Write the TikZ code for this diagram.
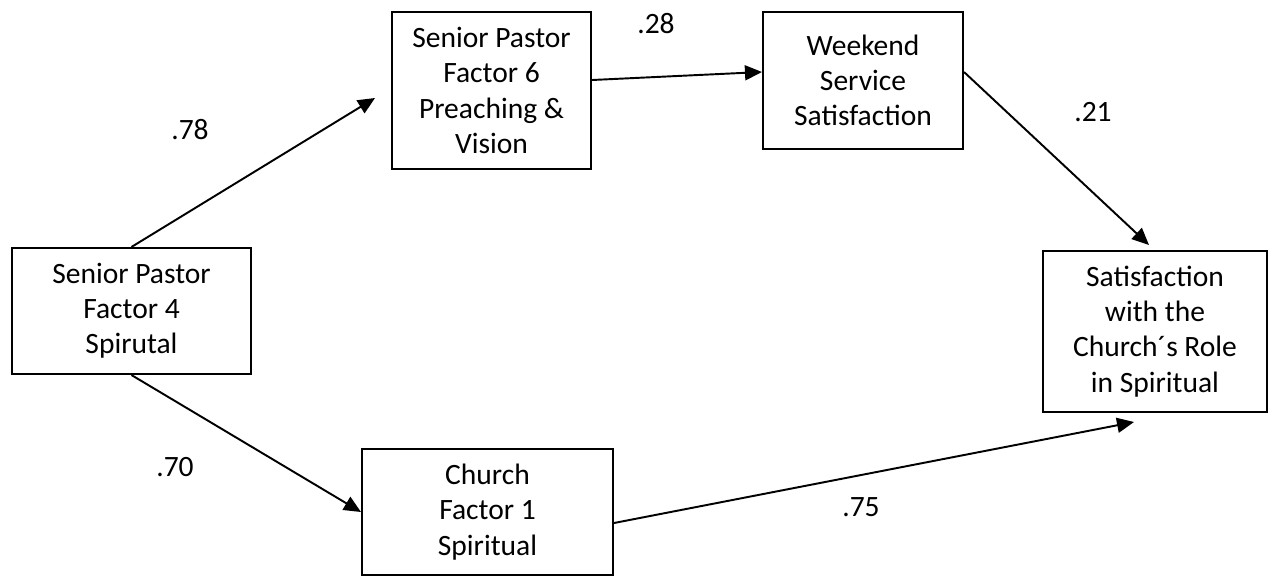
\documentclass[tikz,border=0pt]{standalone}
\usepackage{fontspec}
\setmainfont{Carlito}
\usepackage{tikz}
\usetikzlibrary{arrows.meta,positioning}
\tikzset{
  pathbox/.style={draw=black,line width=1.2pt,align=center,inner sep=0pt,fill=white,text=black},
  arrow/.style={-{Triangle[length=0.34cm,width=0.3cm]},line width=1.1pt,draw=black},
  coef/.style={inner sep=0pt,text=black}
}

\begin{document}
\begin{tikzpicture}[x=0.02cm,y=-0.02cm,font=\fontsize{16.8}{20}\selectfont]
  \useasboundingbox (0,0) rectangle (1272,576);
  \node[pathbox,minimum width=4.78cm,minimum height=2.52cm] (sp4) at (131.5,311) {Senior Pastor\\Factor 4\\Spirutal};
  \node[pathbox,minimum width=3.98cm,minimum height=3.14cm] (sp6) at (491.5,90.5) {Senior Pastor\\Factor 6\\Preaching \&\\Vision};
  \node[pathbox,minimum width=4.0cm,minimum height=2.74cm] (wknd) at (863,80.5) {Weekend\\Service\\Satisfaction};
  \node[pathbox,minimum width=4.48cm,minimum height=3.22cm] (sat) at (1155,331.5) {Satisfaction\\with the\\Church´s Role\\in Spiritual};
  \node[pathbox,minimum width=5.02cm,minimum height=2.52cm] (ch1) at (487.5,512) {Church\\Factor 1\\Spiritual};
  \coordinate (tipsp6) at (375,98);
  \coordinate (tipsat) at (1149,245);
  \coordinate (tipch) at (1134,422);
  \draw[arrow] (sp4.north) -- (tipsp6); \draw[arrow] (sp4.south) -- (ch1.west);
  \draw[arrow] ([yshift=0.21cm]sp6.east) -- ([yshift=0.17cm]wknd.west);
  \draw[arrow] ([yshift=0.17cm]wknd.east) -- (tipsat);
  \draw[arrow] ([yshift=-0.22cm]ch1.east) -- (tipch);
  \node[coef] (c78) at (190,130) {.78};
  \node[coef] (c28) at (656,24) {.28};
  \node[coef] (c21) at (1093,112) {.21};
  \node[coef] (c70) at (175,467) {.70};
  \node[coef] (c75) at (861,507) {.75};
\end{tikzpicture}
\end{document}
